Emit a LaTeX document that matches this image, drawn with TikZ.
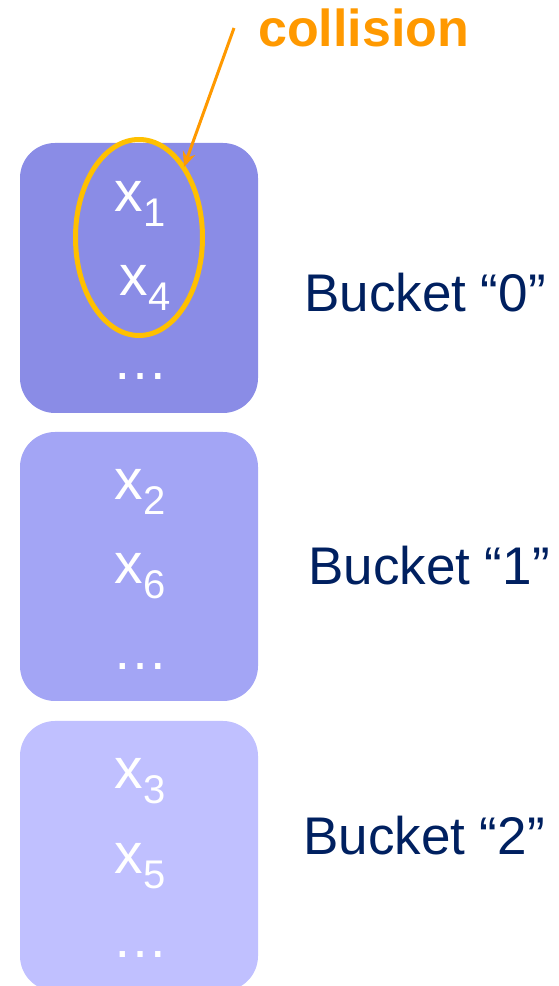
\documentclass[tikz,border=0pt]{standalone}
\usepackage{fontspec}
\setmainfont{Liberation Sans}
\usetikzlibrary{arrows.meta,shapes.geometric}
\definecolor{boxA}{RGB}{138,140,230}
\definecolor{boxB}{RGB}{163,165,245}
\definecolor{boxC}{RGB}{192,192,255}
\definecolor{navy}{RGB}{0,32,96}
\definecolor{orangeA}{RGB}{255,153,0}
\definecolor{goldA}{RGB}{255,192,0}
\newcommand{\xsub}[1]{{\fontsize{57}{60}\selectfont x\raisebox{-15pt}{\fontsize{40}{44}\selectfont #1}}}
\begin{document}
\begin{tikzpicture}[x=1pt,y=1pt,
  bucketbox/.style={fill=#1, rounded corners=35pt, draw=none},
  elem/.style={text=white, inner sep=0pt, anchor=base},
  dotstyle/.style={text=white, inner sep=0pt, anchor=base, font=\fontsize{56}{60}\selectfont},
  bucketlabel/.style={text=navy, inner sep=0pt, anchor=base west, font=\fontsize{53}{58}\selectfont}]
\useasboundingbox (0,0) rectangle (559,986);
\begin{scope}
\clip (0,0) rectangle (559,986);
\path[bucketbox=boxA] (20,986-413) rectangle (258,986-143);
\path[bucketbox=boxB] (20,986-701) rectangle (258,986-432);
\path[bucketbox=boxC] (20,-5) rectangle (258,986-721);
\end{scope}
% bucket 0
\node[elem] (x1) at (140,986-212) {\xsub{1}};
\node[elem] (x4) at (145,986-296) {\xsub{4}};
\node[dotstyle] (d0) at (140,986-380) {…};
% bucket 1
\node[elem] (x2) at (140,986-500) {\xsub{2}};
\node[elem] (x6) at (140,986-584) {\xsub{6}};
\node[dotstyle] (d1) at (140,986-670) {…};
% bucket 2
\node[elem] (x3) at (140,986-789) {\xsub{3}};
\node[elem] (x5) at (140,986-874) {\xsub{5}};
\node[dotstyle] (d2) at (140,986-958) {…};
% labels
\node[bucketlabel] (b0) at (304,986-312) {Bucket “0”};
\node[bucketlabel] (b1) at (308,986-585) {Bucket “1”};
\node[bucketlabel] (b2) at (303,986-855) {Bucket “2”};
% collision
\node[ellipse, draw=goldA, line width=5pt, minimum width=127pt, minimum height=196pt, inner sep=0pt] (ell) at (139,986-237.5) {};
\node[text=orangeA, inner sep=0pt, anchor=base west, font=\bfseries\fontsize{52}{56}\selectfont] (col) at (258,986-47) {collision};
\coordinate (cs) at (234,986-28);
\coordinate (ce) at (184,986-167);
\draw[orangeA, line width=3pt, -{Stealth[length=15pt,width=13pt]}] (cs) -- (ce);
\end{tikzpicture}
\end{document}
